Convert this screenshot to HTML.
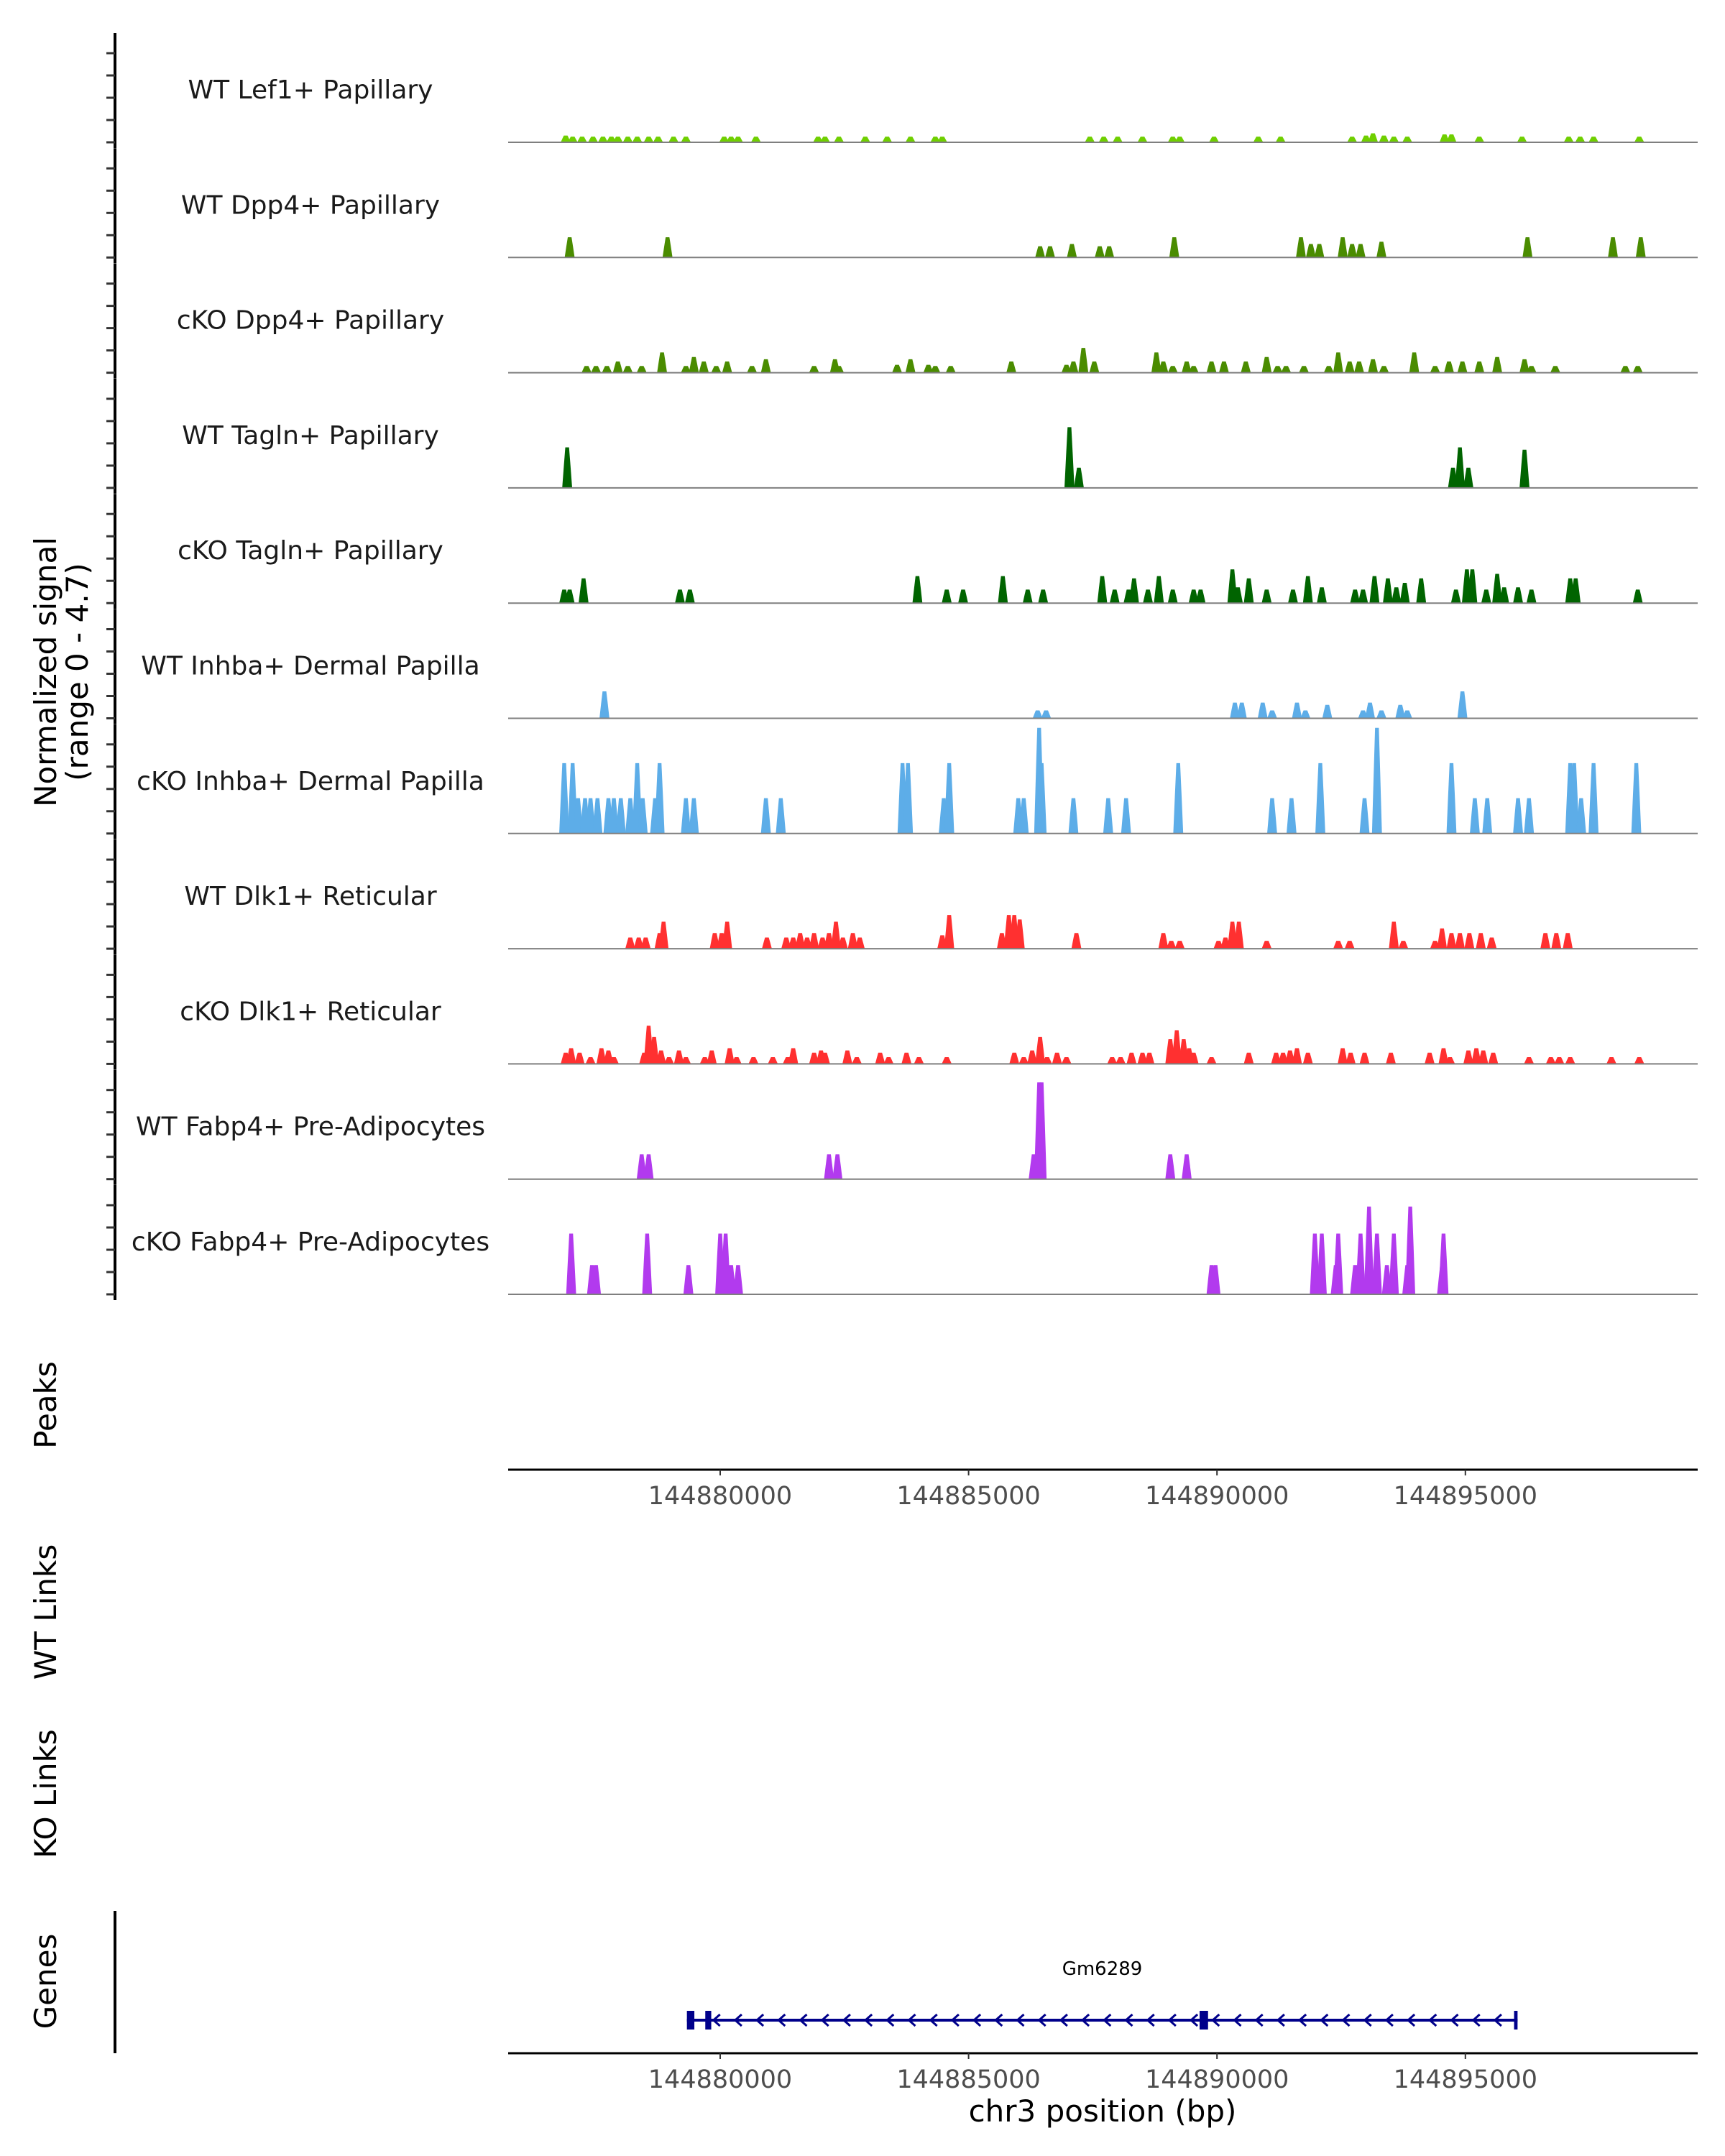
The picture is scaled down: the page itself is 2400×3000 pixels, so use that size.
<!DOCTYPE html>
<html><head><meta charset="utf-8">
<style>
html,body{margin:0;padding:0;background:#fff;}
svg{display:block;font-family:"DejaVu Sans","Liberation Sans",sans-serif;}
</style></head>
<body>
<svg id="chart" width="2400" height="3000" viewBox="0 0 2400 3000" xmlns="http://www.w3.org/2000/svg">
<rect width="2400" height="3000" fill="#fff"/>
<g id="tracks"></g>
<g id="axes"></g>
<text transform="translate(78,935) rotate(-90)" text-anchor="middle" font-size="42" fill="#000">Normalized signal</text>
<text transform="translate(122,935) rotate(-90)" text-anchor="middle" font-size="42" fill="#000">(range 0 - 4.7)</text>
<text transform="translate(78,1955) rotate(-90)" text-anchor="middle" font-size="42" fill="#000">Peaks</text>
<text transform="translate(78,2243) rotate(-90)" text-anchor="middle" font-size="42" fill="#000">WT Links</text>
<text transform="translate(78,2496) rotate(-90)" text-anchor="middle" font-size="42" fill="#000">KO Links</text>
<text transform="translate(78,2757) rotate(-90)" text-anchor="middle" font-size="42" fill="#000">Genes</text>
<line x1="160" y1="2659" x2="160" y2="2857" stroke="#000" stroke-width="4"/>
<text x="1534" y="2952" text-anchor="middle" font-size="42" fill="#000">chr3 position (bp)</text>
<g id="genes"></g>
</svg>
<script>
// positions in kb relative to chr3:144,870,000 ; heights in normalized signal
const trackNames = ["WT Lef1+ Papillary","WT Dpp4+ Papillary","cKO Dpp4+ Papillary","WT Tagln+ Papillary","cKO Tagln+ Papillary","WT Inhba+ Dermal Papilla","cKO Inhba+ Dermal Papilla","WT Dlk1+ Reticular","cKO Dlk1+ Reticular","WT Fabp4+ Pre-Adipocytes","cKO Fabp4+ Pre-Adipocytes"];
const trackColors = ["#6fcf00","#4a8c00","#4a8c00","#006400","#006400","#5dade8","#5dade8","#ff3030","#ff3030","#b23aee","#b23aee"];
const pos0 = [6.89,7.03,7.22,7.44,7.64,7.81,7.94,8.14,8.33,8.56,8.75,9.06,9.31,10.08,10.22,10.36,10.72,11.97,12.11,12.39,12.92,13.36,13.83,14.33,14.47,17.44,17.72,18.00,18.50,19.11,19.25,19.94,20.83,21.28,22.72,23.00,23.14,23.36,23.56,23.83,24.58,24.72,25.28,26.14,27.08,27.31,27.58,28.50];
const val0 = [0.3,0.25,0.25,0.25,0.25,0.25,0.25,0.25,0.25,0.25,0.25,0.25,0.25,0.25,0.25,0.25,0.25,0.25,0.25,0.25,0.25,0.25,0.25,0.25,0.25,0.25,0.25,0.25,0.25,0.25,0.25,0.25,0.25,0.25,0.25,0.3,0.4,0.3,0.25,0.25,0.35,0.35,0.25,0.25,0.25,0.25,0.25,0.25];
const pos1 = [6.97,8.94,16.44,16.64,17.08,17.64,17.83,19.14,21.69,21.89,22.06,22.53,22.72,22.89,23.31,26.25,27.97,28.53];
const val1 = [0.9,0.9,0.5,0.5,0.6,0.5,0.5,0.9,0.9,0.6,0.6,0.9,0.6,0.6,0.7,0.9,0.9,0.9];
const pos2 = [7.31,7.5,7.72,7.94,8.14,8.42,8.83,9.31,9.47,9.67,9.92,10.14,10.64,10.92,11.89,12.31,12.39,13.56,13.83,14.19,14.33,14.64,15.86,16.97,17.11,17.31,17.53,18.78,18.92,19.11,19.39,19.53,19.89,20.14,20.58,21.0,21.22,21.39,21.75,22.25,22.44,22.67,22.86,23.14,23.36,23.97,24.39,24.67,24.94,25.28,25.64,26.19,26.33,26.81,28.22,28.47];
const val2 = [0.3,0.3,0.3,0.5,0.3,0.3,0.9,0.3,0.7,0.5,0.3,0.5,0.3,0.6,0.3,0.6,0.3,0.35,0.6,0.35,0.3,0.3,0.5,0.35,0.5,1.1,0.5,0.9,0.5,0.3,0.5,0.3,0.5,0.5,0.5,0.7,0.3,0.3,0.3,0.3,0.9,0.5,0.5,0.6,0.3,0.9,0.3,0.5,0.5,0.5,0.7,0.6,0.3,0.3,0.3,0.3];
const pos3 = [6.92,17.03,17.22,24.75,24.89,25.06,26.19];
const val3 = [1.8,2.7,0.9,0.9,1.8,0.9,1.7];
const pos4 = [6.86,6.97,7.25,9.19,9.39,13.97,14.56,14.89,15.69,16.19,16.5,17.69,17.94,18.22,18.33,18.61,18.83,19.11,19.53,19.67,20.31,20.42,20.64,21.0,21.53,21.83,22.11,22.78,22.94,23.17,23.44,23.61,23.78,24.11,24.81,25.03,25.14,25.42,25.64,25.78,26.06,26.33,27.11,27.22,28.47];
const val4 = [0.6,0.6,1.1,0.6,0.6,1.2,0.6,0.6,1.2,0.6,0.6,1.2,0.6,0.6,1.1,0.6,1.2,0.6,0.6,0.6,1.5,0.7,1.1,0.6,0.6,1.2,0.7,0.6,0.6,1.2,1.1,0.7,0.9,1.1,0.6,1.5,1.5,0.6,1.3,0.7,0.7,0.6,1.1,1.1,0.6];
const pos5 = [7.67,16.39,16.56,20.36,20.5,20.92,21.11,21.61,21.78,22.22,22.94,23.08,23.31,23.69,23.83,24.94];
const val5 = [1.2,0.35,0.35,0.7,0.7,0.7,0.35,0.7,0.35,0.6,0.35,0.7,0.35,0.6,0.35,1.2];
const pos6 = [6.86,7.03,7.14,7.28,7.39,7.53,7.75,7.86,8.0,8.19,8.33,8.44,8.69,8.78,9.31,9.47,10.92,11.22,13.67,13.78,14.5,14.61,16.0,16.11,16.42,16.47,17.11,17.81,18.17,19.22,21.11,21.5,22.08,22.97,23.22,24.72,25.19,25.44,26.06,26.28,27.11,27.19,27.33,27.58,28.44];
const val6 = [3.13,3.13,1.57,1.57,1.57,1.57,1.57,1.57,1.57,1.57,3.13,1.57,1.57,3.13,1.57,1.57,1.57,1.57,3.13,3.13,1.57,3.13,1.57,1.57,4.7,3.13,1.57,1.57,1.57,3.13,1.57,1.57,3.13,1.57,4.7,3.13,1.57,1.57,1.57,1.57,3.13,3.13,1.57,3.13,3.13];
const pos7 = [8.19,8.36,8.5,8.78,8.86,9.89,10.03,10.14,10.94,11.33,11.47,11.61,11.75,11.89,12.06,12.19,12.33,12.47,12.67,12.81,14.47,14.61,15.67,15.81,15.92,16.03,17.17,18.92,19.08,19.25,20.03,20.17,20.31,20.44,21.0,22.44,22.67,23.56,23.75,24.39,24.53,24.72,24.89,25.08,25.31,25.53,26.61,26.83,27.06];
const val7 = [0.5,0.5,0.5,0.7,1.2,0.7,0.7,1.2,0.5,0.5,0.5,0.7,0.5,0.7,0.5,0.7,1.2,0.5,0.7,0.5,0.6,1.5,0.7,1.5,1.5,1.3,0.7,0.7,0.35,0.35,0.35,0.5,1.2,1.2,0.35,0.35,0.35,1.2,0.35,0.35,0.9,0.7,0.7,0.7,0.7,0.5,0.7,0.7,0.7];
const pos8 = [6.89,7.0,7.17,7.39,7.61,7.75,7.86,8.47,8.56,8.67,8.81,8.97,9.17,9.31,9.69,9.83,10.19,10.33,10.67,11.06,11.36,11.47,11.89,12.03,12.11,12.56,12.75,13.22,13.39,13.75,14.0,14.56,15.92,16.11,16.28,16.44,16.58,16.78,16.97,17.89,18.06,18.28,18.5,18.64,19.06,19.19,19.33,19.44,19.53,19.89,20.64,21.19,21.33,21.47,21.61,21.83,22.53,22.69,22.97,23.5,24.28,24.56,24.69,25.06,25.22,25.36,25.56,26.28,26.72,26.89,27.11,27.94,28.5];
const val8 = [0.5,0.7,0.5,0.3,0.7,0.6,0.3,0.5,1.7,1.2,0.6,0.3,0.6,0.3,0.3,0.6,0.7,0.3,0.3,0.3,0.3,0.7,0.5,0.6,0.5,0.6,0.3,0.5,0.3,0.5,0.3,0.3,0.5,0.3,0.6,1.2,0.3,0.5,0.3,0.3,0.3,0.5,0.5,0.5,1.1,1.5,1.1,0.7,0.5,0.3,0.5,0.5,0.5,0.6,0.7,0.5,0.7,0.5,0.5,0.5,0.5,0.7,0.3,0.6,0.7,0.6,0.5,0.3,0.3,0.3,0.3,0.3,0.3];
const pos9 = [8.42,8.56,12.19,12.36,16.31,16.42,16.47,19.06,19.39];
const val9 = [1.1,1.1,1.1,1.1,1.1,4.3,4.3,1.1,1.1];
const pos10 = [7.0,7.42,7.5,8.53,9.36,10.0,10.11,10.22,10.36,19.89,19.97,21.97,22.11,22.39,22.44,22.78,22.89,23.06,23.22,23.42,23.56,23.83,23.89,24.53,24.56];
const val10 = [2.7,1.3,1.3,2.7,1.3,2.7,2.7,1.3,1.3,1.3,1.3,2.7,2.7,1.3,2.7,1.3,2.7,3.9,2.7,1.3,2.7,1.3,3.9,1.3,2.7];
const xTickLabels = ["144880000","144885000","144890000","144895000"];
const xTickValues = [10,15,20,25];
const geneName = "Gm6289";
const geneStart = 9.33, geneEnd = 26.05;
const exonStarts = [9.33,9.70,19.65,25.98];
const exonEnds = [9.48,9.82,19.82,26.05];

const allPos=[pos0,pos1,pos2,pos3,pos4,pos5,pos6,pos7,pos8,pos9,pos10];
const allVal=[val0,val1,val2,val3,val4,val5,val6,val7,val8,val9,val10];
const NS="http://www.w3.org/2000/svg";
const X0=707, X1=2362;
function xs(kb){return 1002+(kb-10)*69.12;}
const PXU=31.3, peakW=0.2;
function baseY(i){return 198+i*160.3;}
function mk(tag,attrs,parent){const e=document.createElementNS(NS,tag);for(const k in attrs)e.setAttribute(k,attrs[k]);parent.appendChild(e);return e;}
const tg=document.getElementById('tracks');
const ax=document.getElementById('axes');
for(let i=0;i<11;i++){
  const by=baseY(i);
  const g=mk('g',{},tg);
  
  
  const lab=mk('text',{x:432,y:by-61,'text-anchor':'middle','font-size':36,fill:'#1a1a1a'},g);
  lab.textContent=trackNames[i];
  
  
  const p=allPos[i], v=allVal[i];
  for(let j=0;j<p.length;j++){
    const a=xs(p[j]-peakW/2), b=xs(p[j]+peakW/2), c=xs(p[j]-peakW/3), d=xs(p[j]+peakW/3);
    const h=v[j]*PXU;
    const pk=mk('polygon',{points:`${a},${by} ${c},${by-h*0.55} ${c+2},${by-h} ${d-2},${by-h} ${d},${by-h*0.55} ${b},${by}`,fill:trackColors[i]},g);
    
    
  }
  const bl=mk('line',{x1:X0,y1:by,x2:X1,y2:by,stroke:'#7f7f7f','stroke-width':2},g);
  
  
  const top=by-152;
  const seg=mk('line',{x1:160,y1:(i==0?46:top),x2:160,y2:by+8,stroke:'#000','stroke-width':4},ax);
  
  
  for(let k=0;k<5;k++){
    const t=mk('line',{x1:148,y1:by-k*31,x2:160,y2:by-k*31,stroke:'#333','stroke-width':3},ax);
    
    
  }
}
function xAxis(y,name){
  const l=mk('line',{x1:X0,y1:y,x2:X1,y2:y,stroke:'#000','stroke-width':3},ax);
  
  
  for(let k=0;k<xTickValues.length;k++){
    const x=xs(xTickValues[k]);
    const t=mk('line',{x1:x,y1:y,x2:x,y2:y+8,stroke:'#333','stroke-width':2},ax);
    
    
    const tl=mk('text',{x:x,y:y+48,'text-anchor':'middle','font-size':35,fill:'#4d4d4d'},ax);
    tl.textContent=xTickLabels[k];
    
    
  }
}
xAxis(2045,'peaks-x-axis');
xAxis(2857,'genes-x-axis');
const gg=document.getElementById('genes');
const gy=2811;
const gl=mk('line',{x1:xs(geneStart),y1:gy,x2:xs(geneEnd),y2:gy,stroke:'#00008b','stroke-width':4},gg);


for(let x=xs(geneStart)+40;x<xs(geneEnd)-10;x+=30.2){
  const ar=mk('polyline',{points:`${x+6},${gy-8} ${x-3},${gy} ${x+6},${gy+8}`,fill:'none',stroke:'#00008b','stroke-width':3},gg);
  
  
}
for(let k=0;k<exonStarts.length;k++){
  const ex=mk('rect',{x:xs(exonStarts[k]),y:gy-13,width:Math.max(4,xs(exonEnds[k])-xs(exonStarts[k])),height:26,fill:'#00008b'},gg);
  
  
}
const gt=mk('text',{x:xs((geneStart+geneEnd)/2),y:2748,'text-anchor':'middle','font-size':26,fill:'#000'},gg);
gt.textContent=geneName;


</script>
</body></html>
